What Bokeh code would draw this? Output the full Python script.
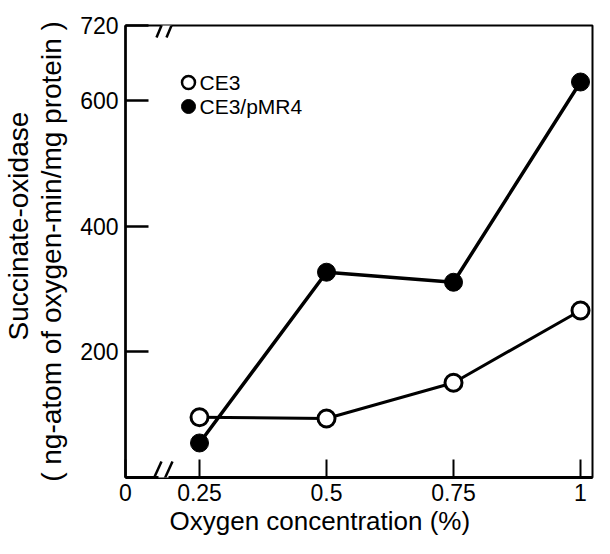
from bokeh.plotting import figure
from bokeh.models import FixedTicker, Label, Arrow, Title
from bokeh.embed import file_html
from bokeh.resources import INLINE

# ---- data ----
oxygen = [0.25, 0.5, 0.75, 1.0]
ce3 = [96, 94, 151, 266]
ce3_pmr4 = [55, 327, 311, 630]

x_ticks = [0.1043, 0.25, 0.5, 0.75, 1.0]         # first tick = axis origin shown as "0" (broken axis)
x_tick_labels = ["0", "0.25", "0.5", "0.75", "1"]
y_ticks = [200, 400, 600, 720]
y_tick_labels = ["200", "400", "600", "720"]
series_names = ["CE3", "CE3/pMR4"]
x_title = "Oxygen concentration (%)"
y_title = ["Succinate-oxidase", "( ng-atom of oxygen-min/mg protein )"]

# ---- layout (figure pixel coordinates) ----
W, H = 594, 538
FL, FR, FT, FB = 125, 592, 25, 477
X0, X1 = x_ticks[0], 1.0236
Y0, Y1 = 0, 720
SX = (FR - FL) / (X1 - X0)
SY = (FB - FT) / (Y1 - Y0)
FONT = "Liberation Sans"


def fx(px):
    return X0 + (px - FL) / SX


def fy(py):
    return Y1 - (py - FT) / SY


p = figure(width=W, height=H, x_range=(X0, X1), y_range=(Y0, Y1),
           min_border_left=FL, min_border_right=W - FR,
           min_border_top=FT, min_border_bottom=H - FB,
           output_backend="svg", toolbar_location=None)
p.xgrid.visible = False
p.ygrid.visible = False
p.background_fill_color = "white"
p.border_fill_color = "white"
p.outline_line_color = "black"
p.outline_line_width = 2
p.outline_line_alpha = 1

xa = p.xaxis[0]
xa.ticker = FixedTicker(ticks=x_ticks)
xa.major_label_overrides = dict(zip(x_ticks, x_tick_labels))
xa.minor_tick_line_color = None
xa.major_tick_in = 18
xa.major_tick_out = 0
xa.major_tick_line_width = 2
xa.axis_line_width = 3
xa.major_label_standoff = 6
xa.major_label_text_font = FONT
xa.major_label_text_font_size = "23px"
xa.major_label_text_color = "black"

ya = p.yaxis[0]
ya.ticker = FixedTicker(ticks=y_ticks)
ya.major_label_overrides = dict(zip(y_ticks, y_tick_labels))
ya.minor_tick_line_color = None
ya.major_tick_in = 23
ya.major_tick_out = 0
ya.major_tick_line_width = 2.5
ya.axis_line_width = 2.5
ya.major_label_standoff = 7
ya.major_label_text_font = FONT
ya.major_label_text_font_size = "23px"
ya.major_label_text_color = "black"
ya.axis_label = y_title[1]
ya.axis_label_standoff = 10
ya.axis_label_text_font = FONT
ya.axis_label_text_font_size = "28px"
ya.axis_label_text_font_style = "normal"
ya.axis_label_text_color = "black"

# ---- data series ----
p.line(oxygen, ce3, line_color="black", line_width=3)
p.line(oxygen, ce3_pmr4, line_color="black", line_width=3.5)
p.scatter(oxygen, ce3, size=17, fill_color="white", line_color="black", line_width=3)
p.scatter(oxygen, ce3_pmr4, size=18, fill_color="black", line_color="black")

# ---- legend (no box, like the reference) ----
leg_y = [82, 106]
p.scatter([fx(188)], [fy(leg_y[0])], size=13, fill_color="white", line_color="black", line_width=2.5)
p.scatter([fx(188)], [fy(leg_y[1])], size=14, fill_color="black", line_color="black")
for name, yy in zip(series_names, leg_y):
    p.add_layout(Label(x=fx(199), y=fy(yy), text=name, text_align="left",
                       text_baseline="middle", text_font=FONT, text_font_size="21px",
                       text_color="black"))

# ---- axis break marks ----
def gap(x_a, x_b, y_px):
    p.add_layout(Arrow(end=None, x_start=fx(x_a), y_start=fy(y_px), x_end=fx(x_b), y_end=fy(y_px),
                       line_color="white", line_width=6))


def slash(xa_, ya_, xb_, yb_):
    p.add_layout(Arrow(end=None, x_start=fx(xa_), y_start=fy(ya_), x_end=fx(xb_), y_end=fy(yb_),
                       line_color="black", line_width=2.5))


gap(158, 168, FB)
slash(151, FB + 6, 161, FB - 16)
slash(162, FB + 6, 172, FB - 16)
gap(161, 171, FT)
slash(156, FT + 12, 166, FT - 12)
slash(166, FT + 12, 176, FT - 12)

# ---- titles ----
p.add_layout(Title(text=x_title, align="left", offset=44, standoff=0,
                   text_font=FONT, text_font_size="26px", text_font_style="normal",
                   text_color="black"), "below")
p.add_layout(Title(text=y_title[0], align="left", offset=FB - 340, standoff=0,
                   text_font=FONT, text_font_size="28px", text_font_style="normal",
                   text_color="black"), "left")

open("out.html", "w").write(file_html(p, INLINE))
